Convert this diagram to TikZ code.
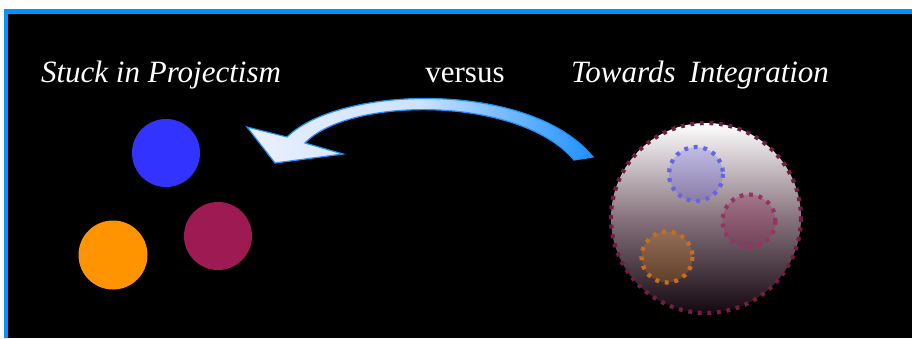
\documentclass[tikz,border=0pt]{standalone}
\usepackage{fontspec}
\setmainfont{Liberation Serif}
\begin{document}
\begin{tikzpicture}[x=1pt,y=-1pt,
  title/.style={text=white,font=\fontsize{31}{36}\selectfont\itshape,inner sep=0pt},
  plain/.style={text=white,font=\fontsize{31}{36}\selectfont,inner sep=0pt},
  ball/.style={circle,minimum size=#1,inner sep=0pt},
  dotring/.style={draw=#1,line width=4.2pt,dash pattern=on 3.8pt off 5.8pt}
]
\definecolor{frameblue}{RGB}{0,148,255}
\definecolor{ballblue}{RGB}{51,51,255}
\definecolor{ballorange}{RGB}{255,148,0}
\definecolor{ballmag}{RGB}{158,26,82}
\definecolor{ringmag}{RGB}{115,28,68}
\definecolor{arrowblue}{RGB}{30,145,255}
\definecolor{arrowlight}{RGB}{235,240,255}
\definecolor{bigbottom}{RGB}{20,8,16}
\definecolor{bigmid}{RGB}{135,115,125}
\definecolor{ringblue}{RGB}{100,100,230}
\definecolor{ringmag2}{RGB}{150,50,100}
\definecolor{ringorange}{RGB}{200,110,30}
\useasboundingbox (0,0) rectangle (912,338);
\fill[white] (0,0) rectangle (912,338);
\fill[frameblue] (4,9) rectangle (912,338);
\fill[black] (7.5,14) rectangle (912,338);
% titles
\node[title] (t1) at (161,75) {Stuck in Projectism};
\node[plain] (t2) at (465,75) {versus};
\node[title] (t3) at (700,75) {Towards\hspace{0.45em}Integration};
% left balls
\node[ball=68pt,fill=ballblue] (b1) at (166,153) {};
\node[ball=68pt,fill=ballmag] (b2) at (218,236) {};
\node[ball=69pt,fill=ballorange] (b3) at (113,255) {};
% big integrated circle
\node[ball=190pt,top color=white,bottom color=bigbottom,middle color=bigmid] (big) at (706,218) {};
\node[ball=54pt,fill=ballblue,fill opacity=0.18] (i1) at (696,174) {};
\node[ball=53pt,fill=ballmag,fill opacity=0.25] (i2) at (749,221) {};
\node[ball=51pt,fill=ballorange,fill opacity=0.2] (i3) at (667,257) {};
\draw[dotring=ringmag] (big) circle[radius=95];
\draw[dotring=ringblue] (i1) circle[radius=27];
\draw[dotring=ringmag2] (i2) circle[radius=26.5];
\draw[dotring=ringorange] (i3) circle[radius=25.5];
% curved arrow
\draw[arrowblue,line width=1.2pt,line join=miter,left color=arrowlight,right color=arrowblue,middle color=arrowlight!85!arrowblue]
  (593,157) .. controls (530,80) and (340,85) .. (287,137)
  -- (247,127) -- (275,163) -- (343,154) -- (305,143)
  .. controls (350,96) and (520,96) .. (574,160) -- cycle;
\end{tikzpicture}
\end{document}
